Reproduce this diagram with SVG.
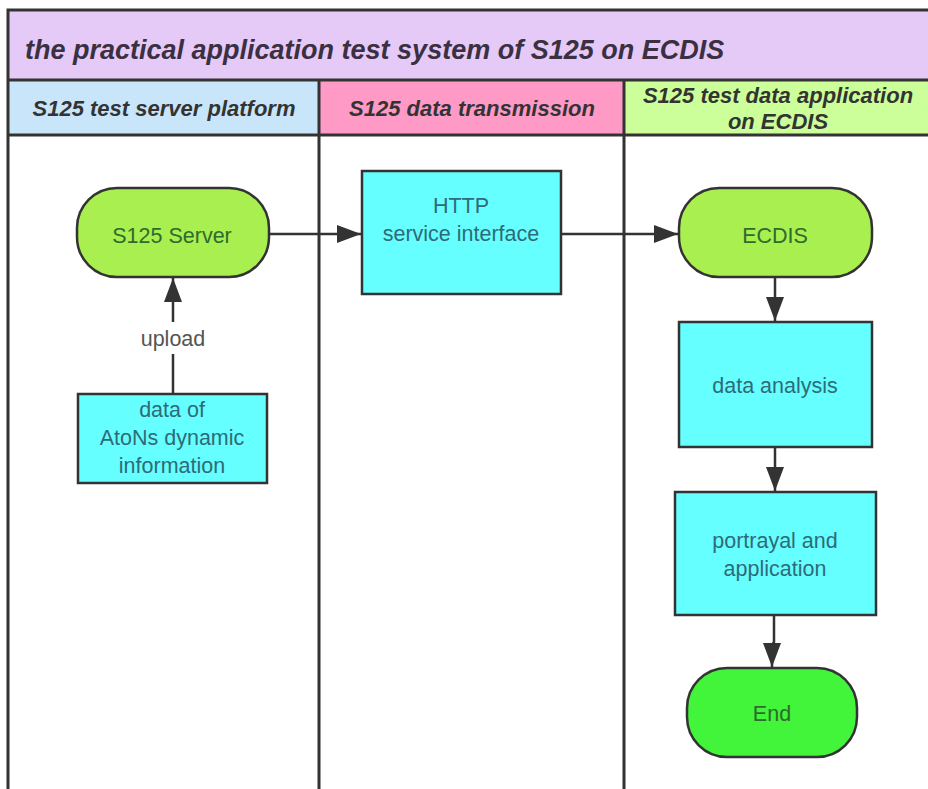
<svg xmlns="http://www.w3.org/2000/svg" width="928" height="789" viewBox="0 0 928 789">
<style>
.frame{fill:none;stroke:#333;stroke-width:3}
.title{font-family:"Liberation Sans",Arial,sans-serif;font-weight:bold;font-style:italic;font-size:27px;fill:#3a3042}
.hdr{font-family:"Liberation Sans",Arial,sans-serif;font-weight:bold;font-style:italic;font-size:22px;fill:#333;text-anchor:middle}
.lbl{font-family:"Liberation Sans",Arial,sans-serif;font-size:21.5px;text-anchor:middle}
.term{fill:#a9ef4f;stroke:#333;stroke-width:2.5}
.proc{fill:#66ffff;stroke:#333;stroke-width:2.5}
.gtxt{fill:#2e6b2e}
.ctxt{fill:#2f6b78}
.conn{fill:none;stroke:#333;stroke-width:2.5}
</style>
<defs>
<marker id="arrL" viewBox="0 0 10 10" refX="10" refY="5" markerWidth="24" markerHeight="18" markerUnits="userSpaceOnUse" orient="auto" preserveAspectRatio="none">
<path d="M0,0 L10,5 L0,10 z" fill="#333"/>
</marker>
</defs>
<rect width="928" height="789" fill="#fff"/>
<g id="pool">
<rect x="8" y="10" width="925" height="70" fill="#e5c9f7"/>
<rect x="8" y="80" width="311" height="55" fill="#c9e5fa"/>
<rect x="319" y="80" width="305" height="55" fill="#ff99c6"/>
<rect x="624" y="80" width="309" height="55" fill="#ccff99"/>
<path class="frame" d="M8,792 V10 H932 M8,80 H932 M8,135 H932 M319,80 V792 M624,80 V792"/>
<text class="title" x="25" y="59">the practical application test system of S125 on ECDIS</text>
<text class="hdr" x="164" y="116">S125 test server platform</text>
<text class="hdr" x="472" y="116">S125 data transmission</text>
<text class="hdr" x="778" y="103">S125 test data application</text>
<text class="hdr" x="778" y="129">on ECDIS</text>
</g>
<g id="connectors">
<path class="conn" d="M269,234 H361" marker-end="url(#arrL)"/>
<path class="conn" d="M561,234 H678" marker-end="url(#arrL)"/>
<path class="conn" d="M173,394 V278" marker-end="url(#arrL)"/>
<path class="conn" d="M775,277 V321" marker-end="url(#arrL)"/>
<path class="conn" d="M775,447 V491" marker-end="url(#arrL)"/>
<path class="conn" d="M774,615 V642 L772,645 V667" marker-end="url(#arrL)"/>
<rect x="136" y="322" width="74" height="32" fill="#fff"/>
<text class="lbl" x="173" y="346" fill="#555">upload</text>
</g>
<g id="server">
<rect class="term" x="77" y="188" width="192" height="89" rx="40"/>
<text class="lbl gtxt" x="172" y="243">S125 Server</text>
</g>
<g id="data">
<rect class="proc" x="78" y="394" width="189" height="89"/>
<text class="lbl ctxt" x="172" y="417">data of</text>
<text class="lbl ctxt" x="172" y="445">AtoNs dynamic</text>
<text class="lbl ctxt" x="172" y="473">information</text>
</g>
<g id="http">
<rect class="proc" x="362" y="171" width="199" height="123"/>
<text class="lbl ctxt" x="461" y="213">HTTP</text>
<text class="lbl ctxt" x="461" y="241">service interface</text>
</g>
<g id="ecdis">
<rect class="term" x="679" y="188" width="193" height="89" rx="40"/>
<text class="lbl gtxt" x="775" y="243">ECDIS</text>
</g>
<g id="analysis">
<rect class="proc" x="679" y="322" width="193" height="125"/>
<text class="lbl ctxt" x="775" y="393">data analysis</text>
</g>
<g id="portrayal">
<rect class="proc" x="675" y="492" width="201" height="123"/>
<text class="lbl ctxt" x="775" y="548">portrayal and</text>
<text class="lbl ctxt" x="775" y="576">application</text>
</g>
<g id="end">
<rect x="687" y="668" width="170" height="89" rx="40" fill="#42f53a" stroke="#333" stroke-width="2.5"/>
<text class="lbl gtxt" x="772" y="721">End</text>
</g>
</svg>
